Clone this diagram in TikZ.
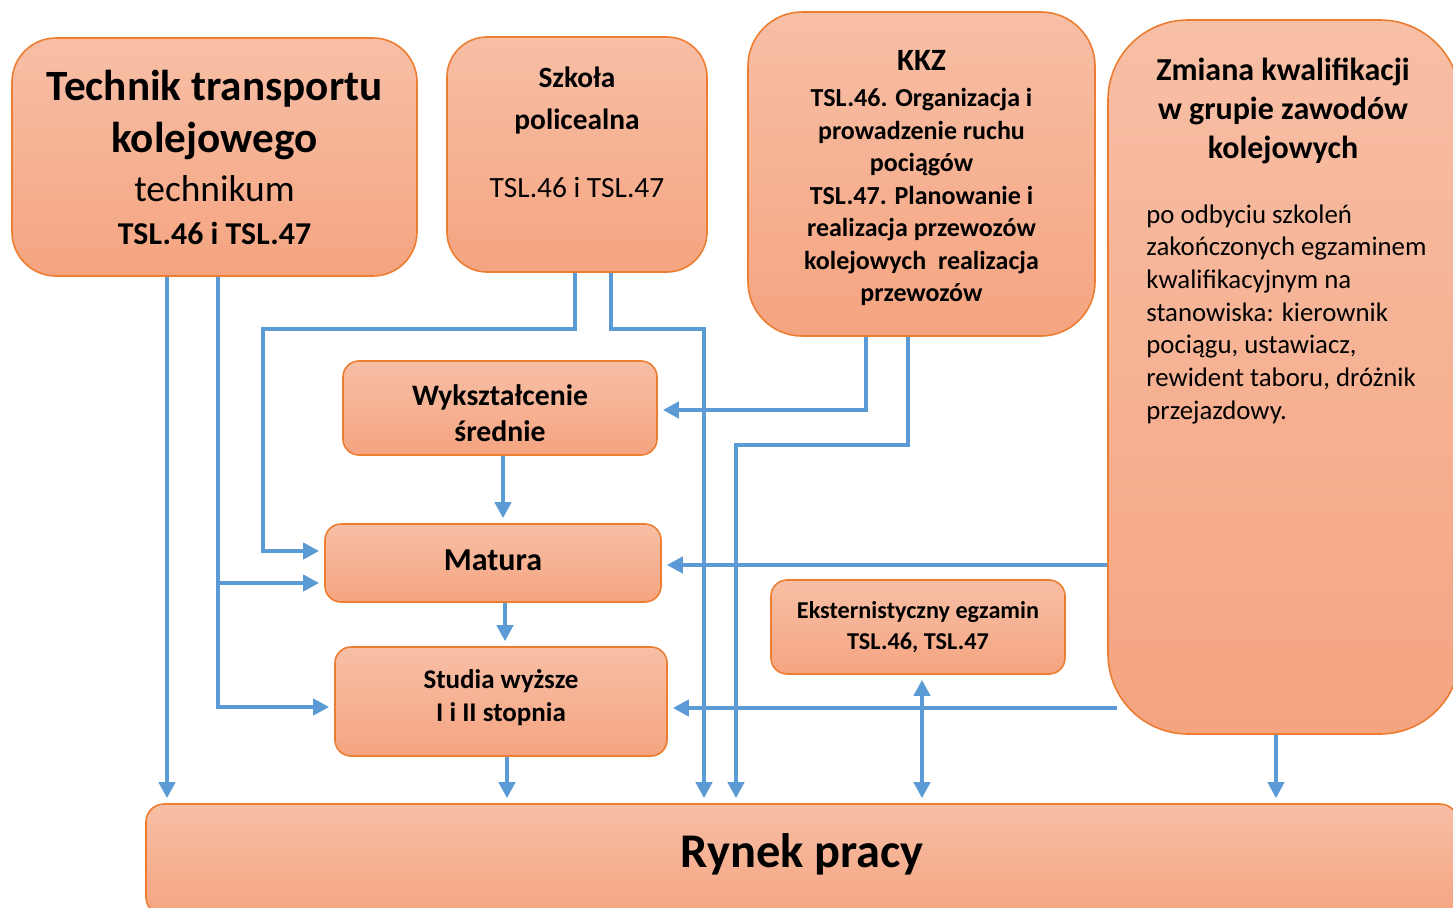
\documentclass[tikz,border=0pt]{standalone}
\usepackage{fontspec}
\setmainfont{Carlito}
\usetikzlibrary{arrows.meta,positioning}
\definecolor{boxtop}{RGB}{247,191,166}
\definecolor{boxbot}{RGB}{245,164,128}
\definecolor{boxline}{RGB}{237,125,49}
\definecolor{linkblue}{RGB}{91,155,213}
\begin{document}
\begin{tikzpicture}[x=0.5pt, y=-0.5pt,
    box/.style={draw=boxline, line width=0.8pt, top color=boxtop, bottom color=boxbot,
        rounded corners=#1, inner sep=0pt, align=center},
    box/.default=8pt,
    link/.style={draw=linkblue, line width=2pt, -{Triangle[width=8pt,length=8pt]}, shorten >=2.5pt},
    both/.style={link, {Triangle[width=8pt,length=8pt]}-{Triangle[width=8pt,length=8pt]}, shorten <=2.5pt}]
        \useasboundingbox (0,0) rectangle (1453,907);
        \begin{scope}
        \clip (0,0) rectangle (1453,907);
        % Boxes
        \node [box=22pt, minimum width=202.5pt, minimum height=119pt,
               font=\fontsize{21.6}{26}\selectfont\bfseries] (tech) at (214.5,157)
            {Technik transportu\\ kolejowego\\[-1.5pt]
             \fontsize{18.7}{24}\selectfont\mdseries technikum\\[-4.5pt]
             \fontsize{15.9}{21}\selectfont\bfseries TSL.46 i TSL.47};
        \node [box=20pt, minimum width=130pt, minimum height=117.5pt,
               font=\fontsize{14.7}{21}\selectfont\bfseries] (szk) at (577,154.5)
            {Szkoła\\ policealna\\[13pt]
             \mdseries TSL.46 i TSL.47\\[1pt]\mbox{}};
        \node [box=27pt, minimum width=173.5pt, minimum height=162pt, text height=130pt,
               font=\fontsize{13}{16.25}\selectfont\bfseries] (kkz) at (921.5,174)
            {\fontsize{15.5}{19}\selectfont KKZ\\[2pt]
             TSL.46. Organizacja i\\ prowadzenie ruchu\\ pociągów\\
             TSL.47. Planowanie i\\ realizacja przewozów\\ kolejowych\ \ realizacja\\ przewozów};
        \node [box=40pt, minimum width=176pt, minimum height=357pt] (zm) at (1284,377) {};
        \node [align=center, inner sep=0pt, font=\fontsize{16}{19.5}\selectfont\bfseries] (zmhead) at (1283,111)
            {Zmiana kwalifikacji\\ w grupie zawodów\\ kolejowych};
        \node [align=left, inner sep=0pt, anchor=north west, font=\fontsize{13.4}{16.35}\selectfont] (zmbody) at (1146,204)
            {po odbyciu szkoleń\\ zakończonych egzaminem\\
             kwalifikacyjnym na\\ stanowiska: kierownik\\ pociągu, ustawiacz,\\
             rewident taboru, dróżnik\\ przejazdowy.};
        \node [box, minimum width=157pt, minimum height=47pt, text height=33.7pt,
               font=\fontsize{14.85}{18}\selectfont\bfseries] (wyk) at (500,408)
            {Wykształcenie\\ średnie};
        \node [box, minimum width=168pt, minimum height=39pt, text depth=3pt,
               font=\fontsize{16}{19}\selectfont\bfseries] (mat) at (493,563) {Matura};
        \node [box, minimum width=166pt, minimum height=54.5pt, text depth=6pt,
               font=\fontsize{13.5}{16.5}\selectfont\bfseries] (stu) at (501,701.5)
            {Studia wyższe\\ I i II stopnia};
        \node [box, minimum width=147pt, minimum height=47pt,
               font=\fontsize{12.1}{15.5}\selectfont\bfseries] (eks) at (918,627)
            {Eksternistyczny egzamin\\ TSL.46, TSL.47};
        \node [box=9pt, minimum width=656pt, minimum height=55.5pt, text depth=9pt,
               font=\fontsize{24.2}{29}\selectfont\bfseries] (ryn) at (802,859.5) {Rynek pracy};
        % Arrows from the technikum
        \draw [link] (167,0 |- tech.south) -- (167,0 |- ryn.north);
        \draw [link] (218,0 |- tech.south) -- (218,707) -- (stu.west |- 0,707);
        \coordinate (tbr) at (218,583);
        \draw [link] (tbr) -- (mat.west |- tbr);
        % Arrows from the szkoła policealna
        \draw [link] (575,0 |- szk.south) -- (575,329) -- (263,329) -- (263,551) -- (mat.west |- 0,551);
        \draw [link] (611,0 |- szk.south) -- (611,329) -- (704,329) -- (704,0 |- ryn.north);
        % Arrows from KKZ
        \draw [link] (866,0 |- kkz.south) -- (866,410) -- (wyk.east |- 0,410);
        \draw [link] (908,0 |- kkz.south) -- (908,445) -- (736,445) -- (736,0 |- ryn.north);
        % Arrows from the zmiana kwalifikacji
        \draw [link] (zm.west |- 0,565) -- (mat.east |- 0,565);
        \draw [link] (1117,708) -- (stu.east |- 0,708);
        \draw [link] (1276,0 |- zm.south) -- (1276,0 |- ryn.north);
        % Middle chain
        \draw [link] (503,0 |- wyk.south) -- (503,0 |- mat.north);
        \draw [link] (505,0 |- mat.south) -- (505,0 |- stu.north);
        \draw [link] (507,0 |- stu.south) -- (507,0 |- ryn.north);
        \draw [both] (922,0 |- eks.south) -- (922,0 |- ryn.north);
        \end{scope}
\end{tikzpicture}
\end{document}
